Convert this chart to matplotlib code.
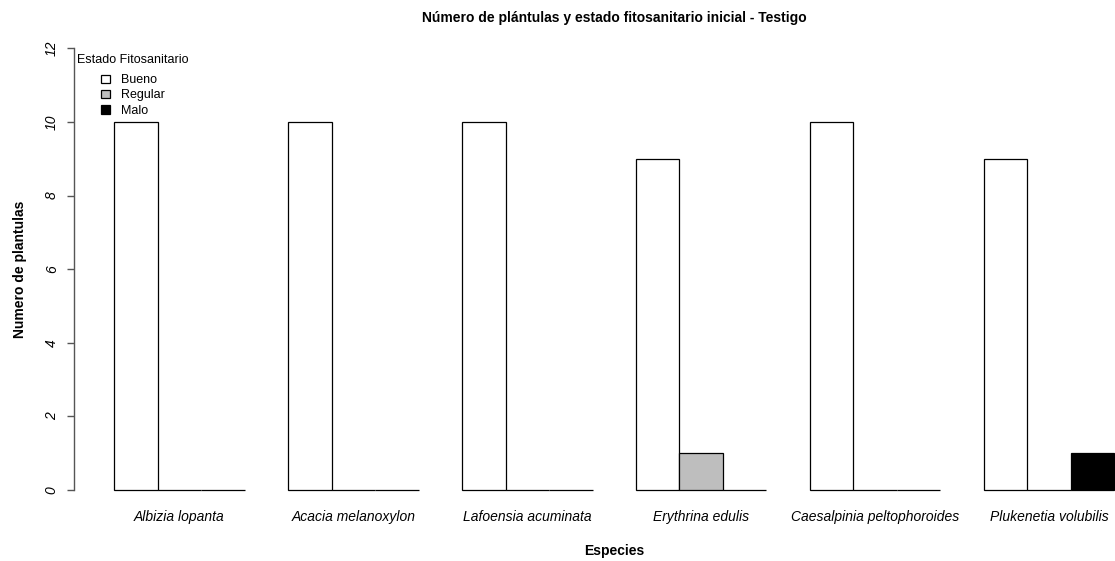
import matplotlib
matplotlib.use("Agg")
import matplotlib.pyplot as plt
import numpy as np

species = ["Albizia lopanta", "Acacia melanoxylon", "Lafoensia acuminata",
           "Erythrina edulis", "Caesalpinia peltophoroides", "Plukenetia volubilis"]
states = ["Bueno", "Regular", "Malo"]
bueno = [10, 10, 10, 9, 10, 9]
regular = [0, 0, 0, 1, 0, 0]
malo = [0, 0, 0, 0, 0, 1]
y_ticks = [0, 2, 4, 6, 8, 10, 12]
colors = ["white", "#BEBEBE", "black"]

plt.rcParams['font.family'] = ['Liberation Sans', 'DejaVu Sans']

W, H = 1115, 561
fig = plt.figure(figsize=(W / 100, H / 100), dpi=100)
# plot region in pixels (R-style barplot)
left_px, right_px = 74, 1154.5
top_px, bot_px = 30.7, 507.7
ax = fig.add_axes([left_px / W, 1 - bot_px / H, (right_px - left_px) / W, (bot_px - top_px) / H])

series = [bueno, regular, malo]
n = len(species)
group_start = 1 + 4 * np.arange(n)
handles = []
for k, (vals, c) in enumerate(zip(series, colors)):
    b = ax.bar(group_start + k, vals, width=1.0, align='edge', color=c,
               edgecolor='black', linewidth=0.9, label=states[k], clip_on=False)
    handles.append(b)

ax.set_xlim(0.08, 24.92)
ax.set_ylim(-0.48, 12.48)

for s in ["top", "right", "bottom"]:
    ax.spines[s].set_visible(False)
ax.spines["left"].set_bounds(0, 12)
ax.spines["left"].set_color("#555555")
ax.spines["left"].set_linewidth(1.0)
ax.set_yticks(y_ticks)
ax.set_yticklabels([str(t) for t in y_ticks], rotation=90, va='center',
                   fontsize=10, fontstyle='italic')
ax.tick_params(axis='y', length=5, width=1.0, color="#555555", pad=6)
ax.set_xticks(group_start + 1.5)
ax.set_xticklabels(species, fontsize=10, fontstyle='italic')
ax.tick_params(axis='x', length=0, pad=2)

ax.set_title("Número de plántulas y estado fitosanitario inicial - Testigo",
             fontsize=10, fontweight='bold', pad=6)
ax.set_xlabel("Especies", fontsize=10, fontweight='bold', labelpad=14)
ax.set_ylabel("Numero de plantulas", fontsize=10, fontweight='bold', labelpad=13)

leg = ax.legend(handles=handles, labels=states, title="Estado Fitosanitario",
                loc='upper left', bbox_to_anchor=(77 / W, 1 - 54 / H),
                bbox_transform=fig.transFigure, frameon=False, fontsize=9,
                title_fontsize=9, handlelength=0.7, handleheight=0.7,
                handletextpad=0.9, labelspacing=0.25, borderpad=0.0,
                borderaxespad=0.0)
leg._legend_box.align = "center"
leg._legend_box.sep = 6

fig.savefig("out.png", dpi=100)
